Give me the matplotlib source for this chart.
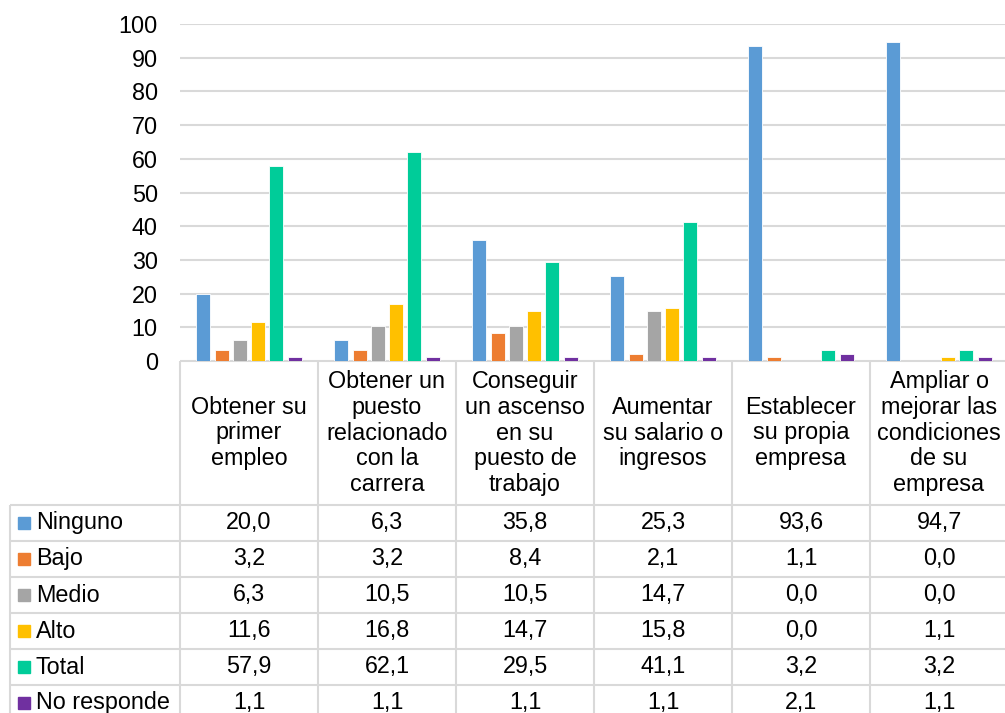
import matplotlib.pyplot as plt

plt.rcParams["font.family"] = ["Liberation Sans", "DejaVu Sans"]

# Data
categories = [
    "Obtener su\nprimer\nempleo",
    "Obtener un\npuesto\nrelacionado\ncon la\ncarrera",
    "Conseguir\nun ascenso\nen su\npuesto de\ntrabajo",
    "Aumentar\nsu salario o\ningresos",
    "Establecer\nsu propia\nempresa",
    "Ampliar o\nmejorar las\ncondiciones\nde su\nempresa",
]
series_names = ["Ninguno", "Bajo", "Medio", "Alto", "Total", "No responde"]
ninguno = [20.0, 6.3, 35.8, 25.3, 93.6, 94.7]
bajo = [3.2, 3.2, 8.4, 2.1, 1.1, 0.0]
medio = [6.3, 10.5, 10.5, 14.7, 0.0, 0.0]
alto = [11.6, 16.8, 14.7, 15.8, 0.0, 1.1]
total = [57.9, 62.1, 29.5, 41.1, 3.2, 3.2]
no_responde = [1.1, 1.1, 1.1, 1.1, 2.1, 1.1]
series = [ninguno, bajo, medio, alto, total, no_responde]
colors = ["#5B9BD5", "#ED7D31", "#A5A5A5", "#FFC000", "#00CC99", "#7030A0"]

W, H = 1005, 713
FS = 16.8
GRID = "#D9D9D9"

fig = plt.figure(figsize=(W / 100, H / 100), dpi=100)

# plot area in pixel terms
x0, col_w = 180, 138
y_top, y_zero = 24, 361
ax = fig.add_axes([x0 / W, (H - y_zero) / H, col_w * 6 / W, (y_zero - y_top) / H])

pitch, bw = 0.1326, 0.101
for k, (name, vals, c) in enumerate(zip(series_names, series, colors)):
    xs = [i + (k - 2.5) * pitch for i in range(len(vals))]
    ax.bar(xs, vals, width=bw, color=c, edgecolor="white", linewidth=0.6, zorder=3)

ax.set_xlim(-0.5, 5.5)
ax.set_ylim(0, 100)
ax.set_yticks(range(0, 101, 10))
ax.set_xticks([])
ax.tick_params(axis="y", length=0, pad=16, labelsize=FS)
ax.grid(axis="y", color=GRID, linewidth=1.5, zorder=0)
for s in ax.spines.values():
    s.set_visible(False)

# data table drawn in pixel coordinates
tab = fig.add_axes([0, 0, 1, 1], zorder=-1)
tab.set_xlim(0, W)
tab.set_ylim(H, 0)
tab.axis("off")

hdr_bot, row_h = 505, 36
n_rows = len(series_names)
bottom = hdr_bot + row_h * n_rows
col_edges = [x0 + col_w * i for i in range(len(categories) + 1)]
lk = dict(color=GRID, linewidth=1.5, solid_capstyle="butt")

tab.plot([x0, col_edges[-1]], [y_zero, y_zero], **lk)
for r in range(n_rows + 1):
    y = hdr_bot + row_h * r
    tab.plot([10, col_edges[-1]], [y, y], **lk)
tab.plot([10, 10], [hdr_bot, bottom], **lk)
for xe in col_edges:
    tab.plot([xe, xe], [y_zero, bottom], **lk)

for i, cat in enumerate(categories):
    cx = x0 + col_w * (i + 0.5)
    tab.text(cx, (y_zero + hdr_bot) / 2, cat, ha="center", va="center",
             fontsize=FS, linespacing=1.15)

for r, (name, vals, c) in enumerate(zip(series_names, series, colors)):
    cy = hdr_bot + row_h * (r + 0.5)
    tab.add_patch(plt.Rectangle((18, cy - 6), 12, 12, color=c))
    tab.text(36, cy, name, ha="left", va="center", fontsize=FS)
    for i, v in enumerate(vals):
        cx = x0 + col_w * (i + 0.5)
        tab.text(cx, cy, f"{v:.1f}".replace(".", ","), ha="center", va="center",
                 fontsize=FS)

fig.savefig("out.png", dpi=100)
